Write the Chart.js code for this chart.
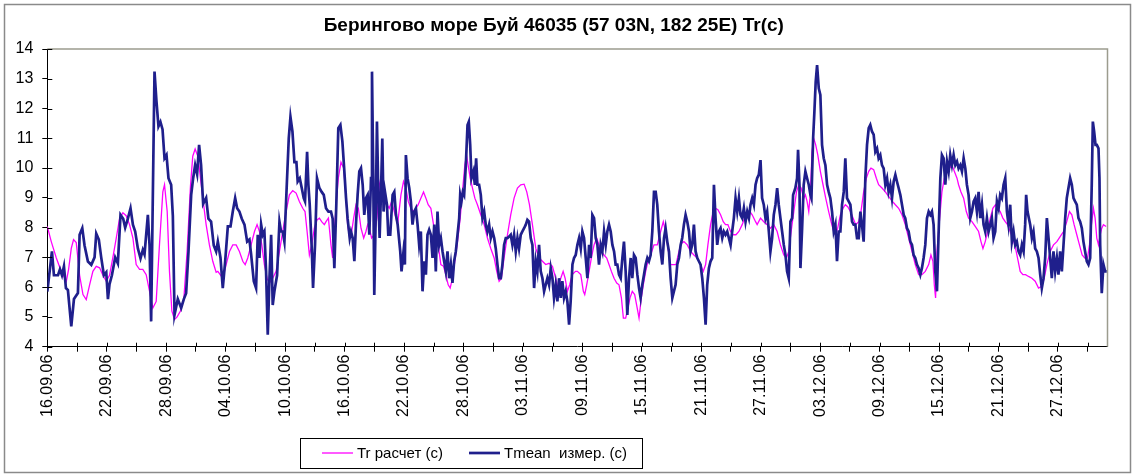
<!DOCTYPE html>
<html>
<head>
<meta charset="utf-8">
<script src="https://cdn.jsdelivr.net/npm/chart.js@4"></script>
<style>
  body { margin: 0; background: #fff; }
</style>
</head>
<body>
<canvas id="myChart" width="1137" height="475"></canvas>
<script>
var titleText = "Берингово море Буй 46035 (57 03N, 182 25E) Tr(c)";
var seriesNames = ["Tr расчет (c)", "Tmean  измер. (c)"];
var seriesColors = ["#ff00ff", "#1f1f8c"];
var startDate = new Date(2006, 8, 16); // day 0 = 16.09.06

// Tr расчет (c): days since 16.09.06 and values
var calcDays = [
  0,0.4,0.91,1.41,1.92,2.15,2.42,2.65,2.92,3.26,
  3.6,3.93,4.27,4.6,4.94,5.28,5.61,5.95,6.28,6.62,
  6.96,7.29,7.63,7.96,8.3,8.64,8.97,9.31,9.64,9.98,
  10.32,10.65,10.99,11.32,11.66,11.83,12.1,12.33,12.57,12.84,
  13.1,13.44,13.78,14.11,14.45,14.68,14.92,15.19,15.46,15.73,
  16.03,16.36,16.7,17.04,
  17.21,17.71,18.05,18.39,18.72,19.06,19.39,19.73,19.97,20.23,
  20.57,20.91,21.17,21.41,21.65,21.91,22.18,22.42,22.75,23.09,
  23.43,23.76,24.1,24.43,24.77,25.11,25.44,25.78,26.01,26.22,
  26.45,26.69,26.95,27.22,27.46,27.69,27.96,28.13,28.37,28.63,
  28.8,28.97,29.17,29.37,29.64,29.91,30.15,30.31,30.52,30.72,
  30.92,31.15,31.39,31.66,31.93,32.16,32.33,32.5,32.73,33.0,
  33.27,33.51,33.67,33.84,34.08,34.28,34.51,34.75,35.02,
  35.35,35.69,35.95,36.19,36.43,36.69,36.96,37.2,37.43,37.7,
  37.97,38.21,38.44,38.71,38.98,39.21,39.45,39.72,39.99,40.22,
  40.46,40.66,40.89,41.13,41.4,41.67,41.9,42.14,42.31,42.47,
  42.68,42.91,43.15,43.41,43.75,44.09,44.42,44.76,45.1,45.36,
  45.6,45.83,46.1,46.44,46.77,47.11,47.45,47.78,48.12,48.39,
  48.66,48.96,49.3,49.63,49.97,50.3,50.64,50.98,51.31,51.55,
  51.82,52.06,52.26,52.49,52.72,52.98,53.31,
  53.5,53.84,54.1,54.24,54.44,54.68,54.91,55.18,55.45,55.68,
  55.92,56.19,56.46,56.69,56.93,57.2,57.47,57.7,57.94,58.14,
  58.37,58.54,58.81,59.04,59.28,59.48,59.72,59.95,60.15,60.39,
  60.62,60.89,61.23,61.56,61.9,62.17,62.4,62.64,62.91,63.18,
  63.45,63.75,63.98,64.25,64.59,64.92,65.26,65.6,65.93,66.2,
  66.44,66.67,66.94,67.21,67.44,67.68,67.95,68.22,68.45,68.69,
  68.96,69.23,69.5,69.8,70.13,70.37,70.64,70.91,71.14,71.48,
  71.64,71.98,72.31,72.65,72.98,73.32,73.66,73.99,74.33,74.6,
  74.83,75.07,75.34,75.61,75.84,76.08,76.34,76.51,76.68,76.85,
  77.02,77.18,77.35,77.55,77.76,78.02,78.29,78.56,78.86,79.1,
  79.37,79.57,79.77,80.04,80.31,80.54,80.78,81.05,81.32,81.59,
  81.89,82.12,82.39,82.66,82.9,83.13,83.4,83.67,83.9,84.24,
  84.58,84.91,85.25,85.59,85.92,86.26,86.59,86.93,87.27,87.6,
  87.94,88.27,88.61,88.95,89.18,89.38,89.52,89.65,
  89.79,90.06,90.29,90.53,90.8,91.07,91.3,91.54,91.81,91.97,
  92.21,92.48,92.75,92.98,93.32,93.65,93.99,94.23,94.43,94.66,
  94.9,95.17,95.43,95.7,95.91,96.17,96.44,96.68,96.91,97.18,
  97.45,97.72,97.99,98.19,98.46,98.73,99.03,99.37,99.7,100.04,
  100.37,100.61,100.88,101.21,101.55,101.89,102.22,102.56,102.89,103.16,
  103.4,103.63,103.9,104.17,104.44,104.71,104.98,105.18,105.38,105.58,
  105.75,105.92,106.09,106.26,106.42,106.59,106.86
];
var calcValues = [
  8.04,7.53,6.98,6.53,6.2,6.6,7.3,7.6,7.5,6.4,
  5.75,5.58,6.08,6.53,6.7,6.65,6.4,6.2,6.4,7.0,
  7.65,8.3,8.5,8.4,8.1,7.65,6.76,6.6,6.6,6.42,
  5.86,5.3,5.52,7.42,9.2,9.44,8.54,6.53,5.2,4.91,
  5.0,5.2,5.6,7.2,9.4,10.4,10.64,10.4,9.66,8.9,
  8.1,7.42,6.87,6.5,
  6.53,6.3,6.76,7.2,7.42,7.42,7.2,6.87,6.76,6.98,
  7.42,7.87,8.1,7.87,7.42,6.76,6.3,6.14,6.3,6.53,
  7.2,7.87,8.54,9.1,9.24,9.16,8.88,8.65,8.54,7.87,
  7.08,7.42,7.98,8.26,8.32,8.2,8.1,8.2,8.32,7.42,
  6.98,7.87,8.88,9.66,10.2,10.0,8.99,8.1,7.65,7.87,
  8.32,8.77,8.65,7.98,7.65,7.87,8.1,7.98,7.65,7.76,
  8.32,9.44,9.66,9.55,9.1,8.77,8.65,8.88,8.54,
  8.1,9.1,9.55,9.33,8.88,8.65,8.54,8.65,8.77,8.99,
  9.2,8.99,8.77,8.65,8.1,7.87,7.42,6.76,6.7,6.42,
  6.08,5.97,6.3,6.87,7.53,8.32,9.2,10.1,10.44,10.1,
  9.66,9.33,8.99,8.77,8.43,8.1,7.65,7.3,6.98,6.53,
  6.2,6.3,6.98,7.76,8.43,8.99,9.33,9.44,9.46,9.2,
  8.77,8.1,7.3,6.98,6.87,6.76,6.8,6.7,6.3,5.97,
  6.3,6.53,6.3,5.86,6.08,6.42,6.53,
  6.53,6.42,5.86,5.75,6.08,6.53,6.98,7.42,7.65,7.42,
  7.2,7.08,6.98,6.76,6.53,6.3,6.14,6.08,5.64,4.96,
  4.96,5.2,5.64,5.86,5.75,5.4,4.96,5.64,6.08,6.53,
  6.87,7.08,7.42,7.42,7.87,8.2,7.87,7.3,6.76,6.76,
  6.76,7.2,7.47,7.53,7.42,7.2,7.08,6.98,6.76,6.53,
  6.76,7.42,8.1,8.54,8.65,8.6,8.43,8.2,8.1,8.1,
  7.87,7.76,7.76,7.87,8.1,8.32,8.43,8.54,8.43,8.2,
  8.1,8.32,8.2,8.1,7.98,8.1,7.87,7.42,7.08,6.98,
  7.2,7.87,8.54,9.2,9.44,9.33,8.99,9.1,8.88,8.54,
  9.2,10.55,11.0,10.78,10.44,9.89,9.44,8.99,8.54,8.2,
  7.87,7.76,7.98,8.43,8.65,8.77,8.7,8.54,8.32,8.1,
  8.2,8.54,9.2,9.66,9.89,10.0,9.95,9.66,9.44,9.33,
  9.2,9.05,8.9,8.77,8.65,8.43,8.1,7.65,7.2,6.76,
  6.42,6.42,6.53,6.76,7.08,6.87,6.08,5.64,
  7.2,8.32,9.2,9.66,9.89,10.0,10.1,9.89,9.66,9.44,
  9.2,8.99,8.54,8.32,8.2,8.04,7.87,7.53,7.3,7.53,
  7.87,8.32,8.65,8.77,8.65,8.54,8.32,8.2,8.1,7.87,
  7.65,7.3,6.87,6.53,6.42,6.42,6.36,6.3,6.2,5.97,
  6.03,6.3,6.76,7.2,7.42,7.53,7.7,7.87,8.2,8.54,
  8.43,8.1,7.76,7.42,7.08,6.98,6.98,7.42,8.1,8.65,
  8.32,7.65,7.42,7.76,7.98,8.1,8.04
];

// Tmean измер. (c): days since 16.09.06 and values
var measDays = [
  0,0.47,0.67,1.08,1.28,1.48,1.68,1.88,2.08,2.42,
  2.69,3.09,3.26,3.53,3.76,4.1,4.44,4.77,4.94,5.2,
  5.44,5.71,5.95,6.12,6.28,6.52,6.85,7.12,7.39,7.66,
  7.86,8.13,8.4,8.64,8.87,9.14,9.41,9.64,9.81,10.15,
  10.32,10.48,10.82,11.02,11.22,11.42,11.63,11.83,12.03,12.23,
  12.5,12.67,12.84,13.17,13.51,13.78,14.01,14.25,14.52,14.72,
  14.92,15.12,15.32,15.52,15.73,16.03,16.26,16.53,16.8,17.04,
  17.21,17.48,17.71,17.95,18.22,18.49,18.72,18.96,19.16,19.39,
  19.63,19.9,20.17,20.4,20.57,20.84,21.07,21.24,21.41,21.58,
  21.75,21.91,22.08,22.25,22.42,22.59,22.75,22.92,23.19,23.43,
  23.59,23.76,23.93,24.17,24.37,24.54,24.74,24.94,25.14,25.27,
  25.48,25.68,25.88,26.01,26.22,26.35,26.48,26.69,26.82,27.02,
  27.22,27.46,27.69,27.9,28.13,28.37,28.63,28.8,28.97,29.17,
  29.37,29.58,29.78,29.98,30.15,30.31,30.52,30.65,30.82,30.99,
  31.15,31.32,31.49,31.66,31.83,31.99,32.16,32.33,32.5,32.67,
  32.77,32.9,33.0,33.14,33.27,33.41,33.54,33.67,33.81,33.94,
  34.08,34.28,34.41,34.61,34.85,35.02,35.19,35.36,
  35.62,35.75,35.95,36.09,36.19,36.36,36.53,36.69,36.86,37.03,
  37.2,37.37,37.53,37.7,37.87,38.04,38.21,38.37,38.54,38.71,
  38.88,39.05,39.21,39.38,39.55,39.72,39.89,40.05,40.22,40.39,
  40.56,40.73,40.89,41.06,41.23,41.4,41.57,41.67,41.8,41.94,
  42.07,42.24,42.41,42.54,42.68,42.81,43.01,43.15,43.28,43.41,
  43.58,43.75,43.92,44.09,44.25,44.42,44.59,44.76,44.93,45.1,
  45.26,45.43,45.6,45.77,45.93,46.1,46.27,46.44,46.61,46.77,
  46.94,47.11,47.28,47.45,47.61,47.78,47.95,48.12,48.29,48.45,
  48.62,48.79,48.96,49.13,49.3,49.46,49.63,49.8,49.97,50.14,
  50.3,50.47,50.64,50.81,50.98,51.14,51.31,51.48,51.65,51.82,
  51.98,52.15,52.32,52.49,52.66,52.82,53.0,53.16,53.33,
  53.5,53.67,53.84,54.0,54.17,54.34,54.51,54.68,54.84,55.01,
  55.18,55.35,55.52,55.68,55.85,56.02,56.19,56.36,56.52,56.69,
  56.86,57.03,57.2,57.36,57.53,57.7,57.87,58.04,58.2,58.37,
  58.54,58.71,58.88,59.04,59.21,59.38,59.55,59.72,59.88,60.05,
  60.22,60.39,60.56,60.72,60.89,61.06,61.23,61.4,61.56,61.73,
  61.9,62.07,62.24,62.4,62.57,62.74,62.91,63.08,63.24,63.41,
  63.58,63.75,63.92,64.08,64.25,64.42,64.59,64.76,64.92,65.09,
  65.26,65.43,65.6,65.76,65.93,66.1,66.27,66.44,66.6,66.77,
  66.94,67.11,67.28,67.44,67.61,67.78,67.95,68.12,68.28,68.45,
  68.62,68.79,68.96,69.12,69.29,69.46,69.63,69.8,69.96,70.13,
  70.3,70.47,70.64,70.81,70.97,71.14,71.31,71.48,
  71.64,71.81,71.98,72.14,72.31,72.48,72.65,72.82,72.98,73.15,
  73.32,73.49,73.66,73.82,73.99,74.16,74.33,74.5,74.66,74.83,
  75.0,75.17,75.27,75.5,75.67,75.77,75.91,76.01,76.18,76.34,
  76.51,76.68,76.85,77.02,77.12,77.29,77.42,77.55,77.69,77.86,
  78.02,78.19,78.36,78.53,78.7,78.86,79.03,79.2,79.37,79.54,
  79.7,79.87,80.04,80.21,80.38,80.54,80.71,80.88,81.05,81.22,
  81.38,81.55,81.72,81.89,82.06,82.22,82.39,82.56,82.73,82.9,
  83.06,83.23,83.4,83.57,83.74,83.9,84.07,84.24,84.41,84.58,
  84.75,84.91,85.08,85.25,85.42,85.59,85.75,85.92,86.09,86.26,
  86.43,86.59,86.76,86.93,87.1,87.27,87.43,87.6,87.77,87.94,
  88.11,88.27,88.44,88.61,88.78,88.95,89.11,89.28,89.45,89.62,
  89.79,89.96,90.13,90.29,90.46,90.63,90.8,90.97,91.13,91.3,
  91.47,91.64,91.81,91.97,92.14,92.31,92.48,92.65,92.81,92.98,
  93.15,93.32,93.49,93.65,93.82,93.99,94.16,94.33,94.49,94.66,
  94.83,95.0,95.17,95.33,95.5,95.67,95.84,96.01,96.17,96.34,
  96.51,96.68,96.85,97.01,97.18,97.35,97.52,97.69,97.85,98.02,
  98.19,98.36,98.53,98.69,98.79,98.93,99.06,99.2,99.37,99.53,
  99.7,99.87,100.04,100.21,100.37,100.54,100.71,100.88,101.05,101.21,
  101.38,101.55,101.72,101.89,102.05,102.22,102.39,102.56,102.73,102.89,
  103.06,103.23,103.4,103.57,103.73,103.9,104.07,104.24,104.41,104.57,
  104.74,104.91,105.08,105.25,105.41,105.52,105.65,105.79,105.92,106.09,
  106.19,106.26,106.42,106.59,106.76,106.93
];
var measValues = [
  5.85,7.2,6.4,6.4,6.6,6.4,6.7,5.97,5.9,4.68,
  5.6,5.8,7.76,7.98,7.4,6.86,6.75,7.0,7.8,7.6,
  7.0,6.4,6.5,5.6,6.1,6.4,7.0,6.8,8.43,8.3,
  8.0,8.3,8.65,8.1,7.87,7.3,6.97,7.25,7.1,8.43,
  7.4,4.85,13.24,12.23,11.4,11.55,11.3,10.33,10.44,9.66,
  9.44,8.4,5.07,5.6,5.3,5.6,5.8,7.2,9.1,9.66,
  10.1,9.8,10.78,10.1,8.8,9.0,8.3,8.2,7.4,7.2,
  7.53,6.98,5.97,6.86,8.04,8.04,8.54,8.99,8.65,8.54,
  8.3,8.1,7.53,7.6,7.1,6.2,5.97,7.76,6.98,8.1,
  7.76,7.87,6.53,4.4,6.3,7.76,5.4,5.86,6.4,8.2,
  7.87,7.87,7.53,9.44,11.0,11.72,11.23,10.2,10.2,9.55,
  9.66,9.33,8.99,8.88,10.55,9.44,8.8,7.3,5.97,7.42,
  9.66,9.33,9.2,9.1,8.65,8.54,8.54,8.3,6.64,8.8,
  11.34,11.45,10.9,9.89,8.99,8.3,7.65,7.87,7.65,6.87,
  8.1,9.1,9.89,10.0,9.44,8.43,8.99,9.1,7.76,9.66,
  13.24,9.66,5.74,8.3,11.56,9.1,7.65,9.1,10.99,8.54,
  9.2,8.77,7.76,7.76,9.1,9.2,8.43,8.1,
  7.2,6.53,7.2,6.76,10.44,9.66,9.33,8.88,8.1,8.54,
  8.65,8.1,7.42,7.87,5.86,6.87,6.42,7.76,7.93,7.76,
  6.98,8.1,6.53,8.54,7.42,7.65,7.2,6.87,6.53,7.2,
  6.3,6.76,6.14,6.87,7.2,7.76,8.32,9.1,8.88,9.2,
  9.1,10.1,11.45,11.56,10.78,9.66,9.89,9.44,10.33,9.44,
  9.44,9.1,8.32,8.54,8.1,7.87,8.1,7.65,7.87,7.65,
  7.3,6.76,6.3,6.3,6.76,7.42,7.65,7.65,7.7,7.76,
  7.42,7.76,7.2,7.65,7.3,7.76,7.87,7.98,8.1,8.26,
  8.2,7.65,7.42,5.97,6.87,6.53,7.42,6.53,6.3,5.86,
  6.08,6.3,6.08,6.64,6.3,5.64,6.08,5.52,6.3,5.64,
  6.2,5.64,5.86,5.52,4.74,5.52,6.76,6.98,7.08,
  7.42,7.65,7.3,7.87,7.65,6.98,6.3,7.42,6.98,8.43,
  8.32,7.65,7.42,6.76,7.42,7.2,7.87,7.42,7.87,8.1,
  7.87,7.42,7.2,6.76,6.76,6.42,6.3,6.98,7.53,6.53,
  5.07,6.3,6.98,6.3,7.08,6.98,6.42,5.97,5.64,6.08,
  6.42,6.76,6.98,6.87,7.08,7.87,9.2,9.2,8.77,7.87,
  7.2,6.76,7.65,7.98,7.53,7.2,6.3,5.64,5.86,6.08,
  6.76,6.98,7.42,7.65,8.1,8.43,8.2,7.87,7.2,7.42,
  8.1,7.2,6.98,6.87,6.76,6.3,5.64,4.74,6.08,6.64,
  6.87,6.98,9.44,8.32,7.42,7.87,7.98,7.65,7.87,7.76,
  7.87,7.65,7.42,7.87,8.32,8.99,8.54,8.99,8.43,8.32,
  8.65,8.2,8.54,8.32,8.77,8.99,8.77,9.44,
  9.66,9.78,10.27,8.99,8.77,8.32,8.54,7.87,7.2,7.65,
  8.43,8.77,9.33,8.77,8.32,7.87,7.42,7.08,6.53,6.3,
  8.2,8.32,9.1,9.33,9.66,10.61,9.44,6.64,7.98,9.44,
  9.89,9.66,9.44,9.1,8.99,11.0,11.9,12.9,13.46,12.68,
  12.46,10.78,10.33,10.1,9.44,9.2,8.99,8.54,7.87,8.1,
  6.87,7.87,7.87,8.77,9.2,10.33,8.99,8.88,8.77,8.2,
  8.1,8.1,7.65,7.65,8.54,8.1,7.53,9.66,10.78,11.34,
  11.45,11.23,11.12,10.55,10.66,10.33,10.44,10.1,9.99,9.44,
  9.66,9.2,9.44,8.99,9.55,9.77,9.55,9.33,9.1,8.77,
  8.43,8.32,7.98,7.87,7.53,7.42,7.08,6.98,6.76,6.64,
  6.42,6.64,6.98,7.42,8.32,8.54,8.43,8.54,8.1,6.53,
  5.86,7.87,9.66,10.44,10.33,9.44,10.22,9.89,10.44,10.1,
  10.44,10.1,10.22,9.99,10.1,9.89,10.33,9.99,9.44,9.1,
  8.32,8.54,8.88,8.99,8.54,9.2,8.32,8.77,8.1,7.87,
  8.32,7.87,8.1,8.32,7.65,7.87,8.88,8.65,9.1,8.99,
  9.44,9.66,8.54,8.1,8.77,7.53,7.87,7.42,7.53,7.2,
  7.08,7.42,7.2,8.1,9.1,8.54,8.32,8.1,7.65,7.87,
  7.3,7.2,6.98,6.42,5.97,6.3,6.98,8.32,7.65,6.98,
  6.3,7.2,6.53,6.98,6.42,7.2,6.53,7.42,8.32,8.99,
  9.33,9.66,9.44,8.99,8.88,8.77,8.32,8.2,7.98,7.53,
  7.2,6.87,6.76,6.98,9.44,11.56,11.23,10.78,10.78,10.66,
  9.66,7.42,5.8,6.76,6.53,6.53
];

var fontFamily = "'Liberation Sans', Arial, sans-serif";

function toPoints(days, values) {
  return days.map(function (d, i) { return { x: d, y: values[i] }; });
}

function dateLabel(day) {
  var d = new Date(startDate.getTime());
  d.setDate(d.getDate() + day);
  var dd = ("0" + d.getDate()).slice(-2);
  var mm = ("0" + (d.getMonth() + 1)).slice(-2);
  var yy = String(d.getFullYear()).slice(-2);
  return dd + "." + mm + "." + yy;
}

// plot frame, inner tick halves, outer border and the boxed legend
var framePlugin = {
  id: "frame",
  afterDraw: function (chart) {
    var ctx = chart.ctx, a = chart.chartArea;
    var xs = chart.scales.x, ys = chart.scales.y;
    ctx.save();
    // grey top/right edges of the plot area
    ctx.strokeStyle = "#9c9c8e";
    ctx.lineWidth = 1.5;
    ctx.beginPath();
    ctx.moveTo(a.left, a.top);
    ctx.lineTo(a.right, a.top);
    ctx.lineTo(a.right, a.bottom);
    ctx.stroke();
    // tick marks crossing the axes
    ctx.strokeStyle = "#000";
    ctx.lineWidth = 1;
    ctx.beginPath();
    ys.ticks.forEach(function (t) {
      var py = Math.round(ys.getPixelForValue(t.value)) + 0.5;
      ctx.moveTo(a.left, py);
      ctx.lineTo(a.left + 5, py);
    });
    xs.ticks.forEach(function (t) {
      var px = Math.round(xs.getPixelForValue(t.value)) + 0.5;
      ctx.moveTo(px, a.bottom);
      ctx.lineTo(px, a.bottom - 4);
    });
    ctx.stroke();
    // outer chart border
    ctx.strokeStyle = "#8a8a8a";
    ctx.lineWidth = 1.5;
    ctx.strokeRect(4.5, 4.5, 1126, 468);
    // legend
    ctx.strokeStyle = "#000";
    ctx.lineWidth = 1;
    ctx.strokeRect(300.5, 438.5, 342, 30);
    var ly = 453;
    var items = [[322, 353, 357], [469, 500, 504]];
    ctx.font = "15px " + fontFamily;
    ctx.textBaseline = "middle";
    ctx.fillStyle = "#000";
    chart.data.datasets.forEach(function (ds, i) {
      var it = items[i];
      ctx.strokeStyle = ds.borderColor;
      ctx.lineWidth = ds.borderWidth;
      ctx.beginPath();
      ctx.moveTo(it[0], ly);
      ctx.lineTo(it[1], ly);
      ctx.stroke();
      ctx.fillText(ds.label, it[2], ly + 1);
    });
    ctx.restore();
  }
};

new Chart("myChart", {
  type: "line",
  data: {
    datasets: [{
      label: seriesNames[0],
      data: toPoints(calcDays, calcValues),
      borderColor: seriesColors[0],
      backgroundColor: seriesColors[0],
      borderWidth: 1.3,
      pointRadius: 0,
      tension: 0,
      order: 1
    }, {
      label: seriesNames[1],
      data: toPoints(measDays, measValues),
      borderColor: seriesColors[1],
      backgroundColor: seriesColors[1],
      borderWidth: 2.7,
      pointRadius: 0,
      tension: 0,
      order: 0
    }]
  },
  options: {
    responsive: false,
    animation: false,
    devicePixelRatio: 1,
    layout: { padding: { left: 0, right: 29.5, top: 0, bottom: 48.3 } },
    plugins: {
      legend: { display: false },
      tooltip: { enabled: false },
      title: {
        display: true,
        text: titleText,
        color: "#000",
        font: { family: fontFamily, size: 19, weight: "bold" },
        padding: { top: 14, bottom: 12.2 }
      }
    },
    scales: {
      x: {
        type: "linear",
        min: 0,
        max: 107,
        afterFit: function (s) { s.height = 80; },
        afterBuildTicks: function (s) {
          s.ticks = s.ticks.filter(function (t) { return t.value % 3 === 0; });
        },
        ticks: {
          stepSize: 3,
          autoSkip: false,
          minRotation: 90,
          maxRotation: 90,
          padding: 3,
          color: "#000",
          font: { family: fontFamily, size: 16 },
          callback: function (v) { return v % 6 === 0 ? dateLabel(v) : ""; }
        },
        grid: { drawOnChartArea: false, drawTicks: true, tickLength: 5, color: "#000" },
        border: { color: "#000", width: 1 }
      },
      y: {
        min: 4,
        max: 14,
        afterFit: function (s) { s.width = 47.3; },
        ticks: {
          stepSize: 1,
          padding: 9,
          color: "#000",
          font: { family: fontFamily, size: 16 }
        },
        grid: { drawOnChartArea: false, drawTicks: true, tickLength: 5, color: "#000" },
        border: { color: "#000", width: 1 }
      }
    }
  },
  plugins: [framePlugin]
});
</script>
</body>
</html>
